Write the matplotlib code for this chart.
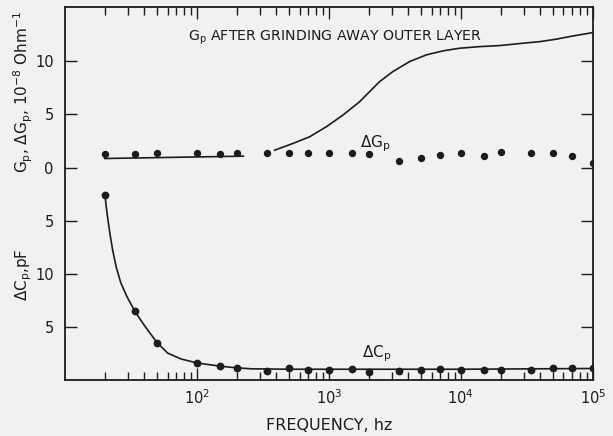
import matplotlib
matplotlib.use("Agg")
import matplotlib.pyplot as plt
import matplotlib.transforms as mtransforms
from matplotlib.ticker import LogLocator, NullFormatter

plt.rcParams['font.family'] = ['DejaVu Sans']
plt.rcParams['mathtext.fontset'] = 'dejavusans'

INK = "#1c1c1c"
BG = "#f1f1f1"

# measured points (Hz)
freq = [20, 34, 50, 100, 150, 200, 340, 500, 700, 1000, 1500, 2000,
        3400, 5000, 7000, 10000, 15000, 20000, 34000, 50000, 70000, 100000]
delta_gp = [1.25, 1.25, 1.35, 1.32, 1.25, 1.32, 1.38, 1.32, 1.32, 1.38, 1.35, 1.28,
            0.59, 0.88, 1.16, 1.38, 1.07, 1.47, 1.38, 1.38, 1.07, 0.38]
delta_cp = [17.4, 6.5, 3.5, 1.66, 1.34, 1.19, 0.91, 1.19, 1.0, 0.97, 1.03, 0.78,
            0.84, 1.0, 1.03, 0.94, 1.0, 1.0, 1.0, 1.1, 1.13, 1.15]

# Gp before the high-frequency rise (short line at left)
gp_low_freq = [20, 225]
gp_low = [0.85, 1.07]

# Gp after grinding away outer layer
gp_freq = [388, 533, 714, 955, 1277, 1710, 2033, 2418, 3052, 4085, 5468,
           7312, 9775, 13850, 19630, 29500, 39640, 52800, 63100, 79400, 100000]
gp = [1.63, 2.26, 2.89, 3.83, 4.93, 6.19, 7.13, 8.07, 9.02, 9.96, 10.59,
      10.97, 11.22, 11.37, 11.47, 11.69, 11.84, 12.07, 12.26, 12.48, 12.69]

# curve drawn through the delta Cp points
cp_fit_freq = [20.1, 20.5, 21.1, 21.9, 23.0, 24.5, 26.5, 29.5, 33.9, 39.9,
               49.8, 60, 75.6, 100, 150, 200, 260, 500, 1000, 10000, 100000]
cp_fit = [17.42, 16.4, 15.2, 13.8, 12.2, 10.6, 9.15, 7.85, 6.47, 5.16,
          3.54, 2.55, 2.0, 1.62, 1.32, 1.16, 1.07, 1.03, 1.03, 1.03, 1.1]

# the delta Cp scale sits below the Gp scale; its zero is at Gp = -20
CP_ZERO = -20
ytick_pos = [10, 5, 0, -5, -10, -15]
ytick_labels = ["10", "5", "0", "5", "10", "5"]
xtick_pos = [1e2, 1e3, 1e4, 1e5]
xtick_labels = ["$10^{2}$", "$10^{3}$", "$10^{4}$", "$10^{5}$"]


def shift(values):
    return [CP_ZERO + v for v in values]


fig = plt.figure(figsize=(6.13, 4.36), dpi=100, facecolor=BG)
ax = fig.add_axes([0.106, 0.128, 0.861, 0.856], facecolor=BG)

ax.plot(gp_low_freq, gp_low, color=INK, lw=1.2)
ax.plot(gp_freq, gp, color=INK, lw=1.2, solid_joinstyle='round')
ax.plot(freq, delta_gp, 'o', color=INK, ms=4.3, ls='none')

ax.plot(cp_fit_freq, shift(cp_fit), color=INK, lw=1.2, solid_joinstyle='round')
ax.plot(freq, shift(delta_cp), 'o', color=INK, ms=4.6, ls='none')

ax.set_xscale('log')
ax.set_xlim(10, 1e5)
ax.set_ylim(-20, 15.1)

ax.set_xticks(xtick_pos)
ax.set_xticklabels(xtick_labels)
ax.xaxis.set_minor_locator(LogLocator(base=10, subs=range(2, 10)))
ax.xaxis.set_minor_formatter(NullFormatter())
ax.set_yticks(ytick_pos)
ax.set_yticklabels(ytick_labels)

ax.tick_params(which='both', direction='in', top=True, right=True,
               color=INK, labelcolor=INK, labelsize=10.5, width=1.0)
ax.tick_params(which='major', length=8.5)
ax.tick_params(which='minor', length=6)
ax.tick_params(axis='y', pad=8)
ax.tick_params(axis='x', pad=6)
for s in ax.spines.values():
    s.set_color(INK)
    s.set_linewidth(1.3)

ax.set_xlabel("FREQUENCY, hz", fontsize=11.5, color=INK, labelpad=8)

side = mtransforms.blended_transform_factory(ax.transAxes, ax.transData)
ax.text(-0.078, 7.1, "G$_{\\rm p}$, ΔG$_{\\rm p}$, 10$^{-8}$ Ohm$^{-1}$",
        transform=side, rotation=90, ha='center', va='center',
        fontsize=11, color=INK)
ax.text(-0.078, -10.1, "ΔC$_{\\rm p}$,pF", transform=side, rotation=90,
        ha='center', va='center', fontsize=11, color=INK)

ax.text(85, 11.94, "G$_{\\rm p}$ AFTER GRINDING AWAY OUTER LAYER",
        ha='left', va='baseline', fontsize=10.2, color=INK)
ax.text(1718, 1.9, "ΔG$_{\\rm p}$", ha='left', va='baseline',
        fontsize=11, color=INK)
ax.text(1780, CP_ZERO + 2.16, "ΔC$_{\\rm p}$", ha='left', va='baseline',
        fontsize=11, color=INK)

fig.savefig("out.png", dpi=100, facecolor=BG)
